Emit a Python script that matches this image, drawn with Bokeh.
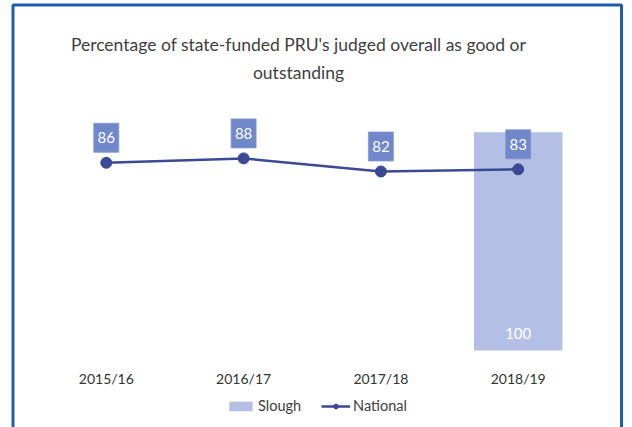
from bokeh.plotting import figure
from bokeh.models import Range1d, Label, BoxAnnotation, Legend, LegendItem, ColumnDataSource
from bokeh.core.properties import value
from bokeh.embed import file_html
from bokeh.resources import INLINE

# ---- data ----
years = ["2015/16", "2016/17", "2017/18", "2018/19"]
national = [86, 88, 82, 83]
slough = [float("nan"), float("nan"), float("nan"), 100]
title_lines = ["Percentage of state-funded PRU's judged overall as good or", "outstanding"]

# ---- layout helpers (pixel -> data, for decoration placement only) ----
W, H = 632, 427
X0, DX = 105.8, 137.3        # pixel of first category, pixels per category
Y0, DY = 350.0, 2.183        # pixel of value 0, pixels per unit
LBL_OFF = 25                 # px between point and its data label

def px2x(px):
    return (px - X0) / DX

def py2y(py):
    return (Y0 - py) / DY

FONT = "Lato"
idx = list(range(len(years)))

p = figure(width=W, height=H, output_backend="svg", toolbar_location=None,
           x_axis_type=None, y_axis_type=None, min_border=0,
           x_range=Range1d(px2x(0), px2x(W)), y_range=Range1d(py2y(H), py2y(0)))
p.outline_line_color = None
p.background_fill_color = "white"
p.border_fill_color = "white"

src = ColumnDataSource(dict(x=idx, year=years, national=national, slough=slough,
                            lbl_y=[v + LBL_OFF / DY for v in national],
                            nat_lbl=[str(v) for v in national],
                            sl_lbl=["" if v != v else str(int(v)) for v in slough]))

bar = p.vbar(x="x", top="slough", bottom=0, width=88.4 / DX, source=src,
             fill_color="#b3bfe5", line_color=None)
line = p.line(x="x", y="national", source=src, line_color="#3b4a94", line_width=2.5)
pts = p.scatter(x="x", y="national", source=src, size=11, fill_color="#3b4a94", line_color="#3b4a94")

# data labels for National: box + text
p.rect(x="x", y="lbl_y", width=25, height=29, width_units="screen", height_units="screen",
       source=src, fill_color="#7087c9", line_color="#8797cf", line_width=0.8)
p.text(x="x", y="lbl_y", text="nat_lbl", source=src,
       text_align="center", text_baseline="middle", text_color="white",
       text_font=value(FONT), text_font_size="15px")

# data label for Slough bar (inside base)
p.text(x="x", y=0, text="sl_lbl", source=src, y_offset=-17,
       text_align="center", text_baseline="middle", text_color="white",
       text_font=value(FONT), text_font_size="15px")

# category labels
p.text(x="x", y=py2y(378), text="year", source=src,
       text_align="center", text_baseline="middle", text_color="#333333",
       text_font=value(FONT), text_font_size="14px")

# title
for i, t in enumerate(title_lines):
    p.add_layout(Label(x=px2x(298), y=py2y(44 + 28 * i), text=t,
                       text_align="center", text_baseline="middle",
                       text_color="#404040", text_font=FONT, text_font_size="17.5px"))

# blue frame border
p.add_layout(BoxAnnotation(left=px2x(12.5), right=px2x(621), top=py2y(4.5), bottom=py2y(460),
                           fill_alpha=0, line_alpha=1, line_color="#1f5cb0", line_width=3))

legend = Legend(items=[LegendItem(label="Slough", renderers=[bar]),
                       LegendItem(label="National", renderers=[line, pts])],
                orientation="horizontal", location=(226, 13),
                label_text_font=FONT, label_text_font_size="14.5px", label_text_color="#404040",
                glyph_width=29, glyph_height=12, spacing=20, padding=0, margin=0,
                label_standoff=3, background_fill_alpha=0, border_line_color=None)
p.add_layout(legend)

open("out.html", "w").write(file_html(p, INLINE))
